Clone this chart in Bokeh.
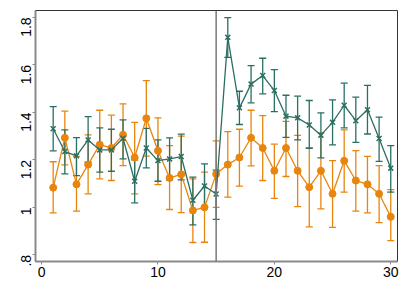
import math
from bokeh.plotting import figure
from bokeh.models import ColumnDataSource, Whisker, TeeHead, Span, FixedTicker, CustomJSTickFormatter
from bokeh.embed import file_html
from bokeh.resources import INLINE

x = list(range(1, 31))

green = [1.331, 1.235, 1.217, 1.284, 1.242, 1.242, 1.291, 1.110, 1.250, 1.197,
         1.204, 1.214, 1.030, 1.090, 1.056, 1.716, 1.419, 1.519, 1.555, 1.492,
         1.384, 1.377, 1.347, 1.304, 1.358, 1.430, 1.365, 1.411, 1.290, 1.165]
green_hi = [1.424, 1.326, 1.294, 1.382, 1.335, 1.329, 1.368, 1.200, 1.333, 1.284,
            1.293, 1.308, 1.127, 1.183, 1.157, 1.799, 1.489, 1.597, 1.628, 1.580,
            1.472, 1.468, 1.450, 1.398, 1.453, 1.523, 1.464, 1.514, 1.380, 1.260]
green_lo = [1.238, 1.141, 1.134, 1.190, 1.148, 1.152, 1.204, 1.019, 1.166, 1.110,
            1.115, 1.116, 0.926, 1.000, 0.949, 1.632, 1.349, 1.440, 1.478, 1.403,
            1.295, 1.284, 1.249, 1.208, 1.263, 1.335, 1.274, 1.309, 1.194, 1.064]

orange = [1.083, 1.293, 1.097, 1.180, 1.264, 1.250, 1.306, 1.210, 1.375, 1.238,
          1.124, 1.139, 0.987, 1.000, 1.140, 1.180, 1.210, 1.293, 1.250, 1.154,
          1.250, 1.154, 1.085, 1.154, 1.057, 1.196, 1.113, 1.097, 1.057, 0.960]
orange_hi = [1.192, 1.405, 1.215, 1.305, 1.409, 1.388, 1.436, 1.358, 1.534, 1.377,
             1.260, 1.300, 1.120, 1.148, 1.280, 1.319, 1.329, 1.409, 1.386, 1.266,
             1.362, 1.303, 1.250, 1.314, 1.197, 1.326, 1.239, 1.215, 1.176, 1.075]
orange_lo = [0.977, 1.179, 0.984, 1.057, 1.120, 1.113, 1.176, 1.057, 1.216, 1.096,
             0.991, 0.978, 0.852, 0.853, 1.000, 1.043, 1.089, 1.175, 1.113, 1.038,
             1.130, 1.003, 0.918, 0.994, 0.916, 1.064, 0.984, 0.977, 0.936, 0.860]

x_ticks = [0, 10, 20, 30]
y_ticks = [0.8, 1.0, 1.2, 1.4, 1.6, 1.8]
break_x = 15

GREEN = "#2b6f63"
ORANGE = "#e8850c"

src = ColumnDataSource(dict(x=x, g=green, gh=green_hi, gl=green_lo,
                            o=orange, oh=orange_hi, ol=orange_lo))

p = figure(width=400, height=290, output_backend="svg", toolbar_location=None,
           x_range=(-0.52, 30.58), y_range=(0.772, 1.829),
           min_border_left=35, min_border_right=3, min_border_top=10, min_border_bottom=29)
p.background_fill_color = "white"
p.border_fill_color = "white"
p.outline_line_color = "#333333"
p.outline_line_width = 1
p.xgrid.visible = False
p.ygrid.visible = False

for ax in (p.xaxis[0], p.yaxis[0]):
    ax.axis_line_color = "#8a8a8a"
    ax.axis_line_width = 2
    ax.major_tick_line_color = "#8a8a8a"
    ax.major_tick_line_width = 1
    ax.major_tick_in = 0
    ax.major_tick_out = 3
    ax.minor_tick_line_color = None
    ax.major_label_text_font = "Liberation Sans"
    ax.major_label_text_font_size = "14px"
    ax.major_label_text_color = "black"

p.xaxis.ticker = FixedTicker(ticks=x_ticks)
p.xaxis.major_label_standoff = 2
p.yaxis.ticker = FixedTicker(ticks=y_ticks)
p.yaxis.major_label_orientation = math.pi / 2
p.yaxis.major_label_standoff = 6
p.yaxis.formatter = CustomJSTickFormatter(
    code="return tick.toFixed(1).replace(/^0/, '').replace(/\\.0$/, '');")

p.add_layout(Span(location=break_x, dimension="height", line_color="#7a7a7a", line_width=1.5))

for lo, hi, col in (("ol", "oh", ORANGE), ("gl", "gh", GREEN)):
    w = Whisker(source=src, base="x", lower=lo, upper=hi, line_color=col, line_width=1.3,
                upper_head=TeeHead(size=7, line_color=col, line_width=1.3),
                lower_head=TeeHead(size=7, line_color=col, line_width=1.3))
    p.add_layout(w)

p.line("x", "o", source=src, line_color=ORANGE, line_width=1.3)
p.scatter("x", "o", source=src, marker="circle", size=7, fill_color=ORANGE, line_color=ORANGE)
p.line("x", "g", source=src, line_color=GREEN, line_width=1.3)
p.scatter("x", "g", source=src, marker="x", size=7, line_color=GREEN, line_width=1.5)

open("out.html", "w").write(file_html(p, INLINE))
